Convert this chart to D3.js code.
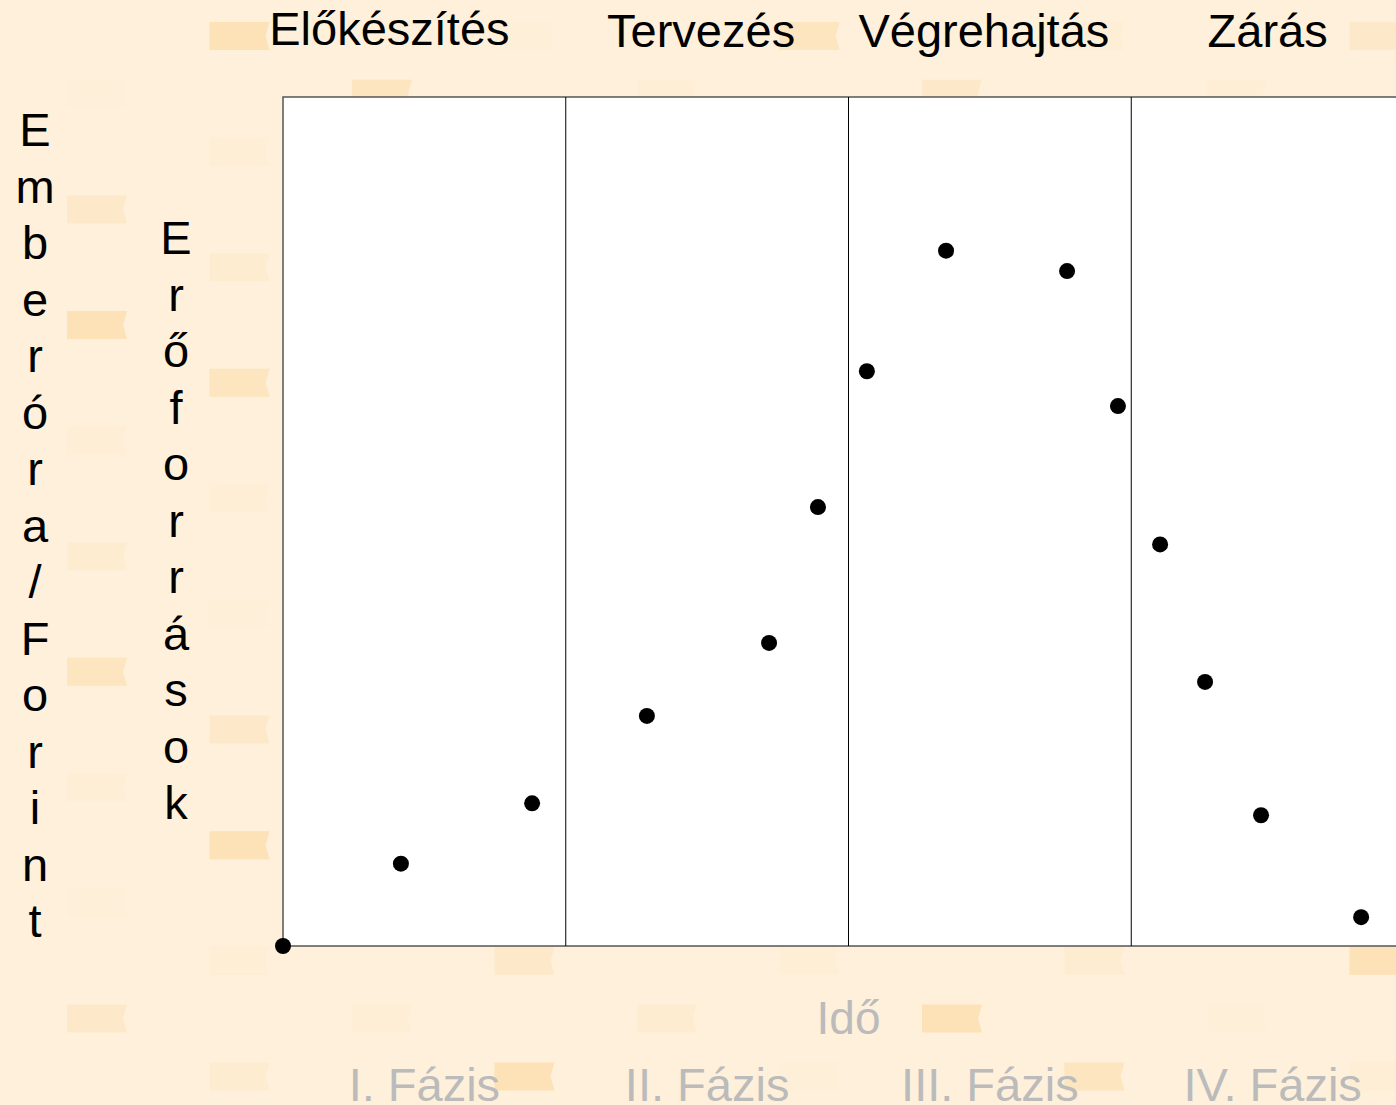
<!DOCTYPE html>
<html>
<head>
<meta charset="utf-8">
<script src="https://cdn.jsdelivr.net/npm/d3@7"></script>
<style>
  html, body { margin: 0; padding: 0; background: #fef0da; }
  svg { display: block; font-family: "Liberation Sans", Arial, sans-serif; }
</style>
</head>
<body>
<svg id="chart"></svg>
<script>
// phases (bottom labels) and their titles (top labels)
const phaseLabels = ["I. Fázis", "II. Fázis", "III. Fázis", "IV. Fázis"];
const phaseTitles = ["Előkészítés", "Tervezés", "Végrehajtás", "Zárás"];

// time measured in phases (0..4), effort in % of the plot height
const timeValues = [0, 0.417, 0.881, 1.287, 1.719, 1.892, 2.065, 2.345, 2.773, 2.953, 3.102, 3.261, 3.459, 3.813];
const effortValues = [0, 9.7, 16.8, 27.1, 35.7, 51.7, 67.7, 81.9, 79.5, 63.6, 47.3, 31.1, 15.4, 3.4];

const yLabelOuter = "Emberóra/Forint";
const yLabelInner = "Erőforrások";
const xLabel = "Idő";

const width = 1396, height = 1105;
const svg = d3.select("#chart").attr("width", width).attr("height", height);

const margin = { top: 97, left: 283, bottom: 946, right: 1414 };
const xScale = d3.scaleLinear().domain([0, phaseLabels.length]).range([margin.left, margin.right]);
const yScale = d3.scaleLinear().domain([0, 100]).range([margin.bottom, margin.top]);

// background decoration: faint ribbon tiles in a checkerboard
const tiles = [];
for (let r = 0; r < 19; r++) {
    for (let c = 0; c < 10; c++) {
        if ((c + r) % 2 === 1) tiles.push({ c, r });
    }
}
const tileOpacity = [0.08, 0.5, 0.03, 0.65, 0.15, 0.05, 0.3];
svg.append("g").attr("class", "tiles")
    .selectAll("path").data(tiles).join("path")
    .attr("transform", d => `translate(${67 + d.c * 142.5},${22 + d.r * 57.8})`)
    .attr("d", "M0,0H60L56,14L60,28H0Z")
    .attr("fill", "#fcd9a4")
    .attr("opacity", d => tileOpacity[(d.c * 3 + d.r * 2) % 7]);

// plot area
svg.append("rect")
    .attr("x", xScale(0)).attr("y", yScale(100))
    .attr("width", xScale(4) - xScale(0))
    .attr("height", yScale(0) - yScale(100))
    .attr("fill", "#fff")
    .attr("stroke", "#555")
    .attr("stroke-width", 1.5);

svg.append("g").selectAll("line").data(d3.range(1, phaseLabels.length)).join("line")
    .attr("x1", d => xScale(d)).attr("x2", d => xScale(d))
    .attr("y1", yScale(100)).attr("y2", yScale(0))
    .attr("stroke", "#000")
    .attr("stroke-width", 1);

// phase titles on top
const titleShift = [-35, -6, -6, -5];
const titleBase = [45, 47, 47, 47];
svg.append("g").selectAll("text").data(phaseTitles).join("text")
    .attr("x", (d, i) => xScale(i + 0.5) + titleShift[i])
    .attr("y", (d, i) => titleBase[i])
    .attr("text-anchor", "middle")
    .attr("font-size", 47)
    .attr("fill", "#000")
    .text(d => d);

// phase labels on bottom
svg.append("g").selectAll("text").data(phaseLabels).join("text")
    .attr("x", (d, i) => xScale(i + 0.5))
    .attr("y", 1101)
    .attr("text-anchor", "middle")
    .attr("font-size", 47)
    .attr("fill", "#bbbbbb")
    .text(d => d);

svg.append("text")
    .attr("x", xScale(2))
    .attr("y", 1034)
    .attr("text-anchor", "middle")
    .attr("font-size", 46)
    .attr("fill", "#bbbbbb")
    .text(xLabel);

// vertical stacked y labels
function stacked(label, x, y0) {
    svg.append("g").selectAll("text").data(Array.from(label)).join("text")
        .attr("x", x)
        .attr("y", (d, i) => y0 + i * 56.5)
        .attr("text-anchor", "middle")
        .attr("font-size", 47)
        .attr("fill", "#000")
        .text(d => d);
}
stacked(yLabelOuter, 35, 146);
stacked(yLabelInner, 176, 254);

// data points
const points = timeValues.map((t, i) => ({ t, v: effortValues[i] }));
svg.append("g").selectAll("circle").data(points).join("circle")
    .attr("cx", d => xScale(d.t))
    .attr("cy", d => yScale(d.v))
    .attr("r", 8)
    .attr("fill", "#000");
</script>
</body>
</html>
